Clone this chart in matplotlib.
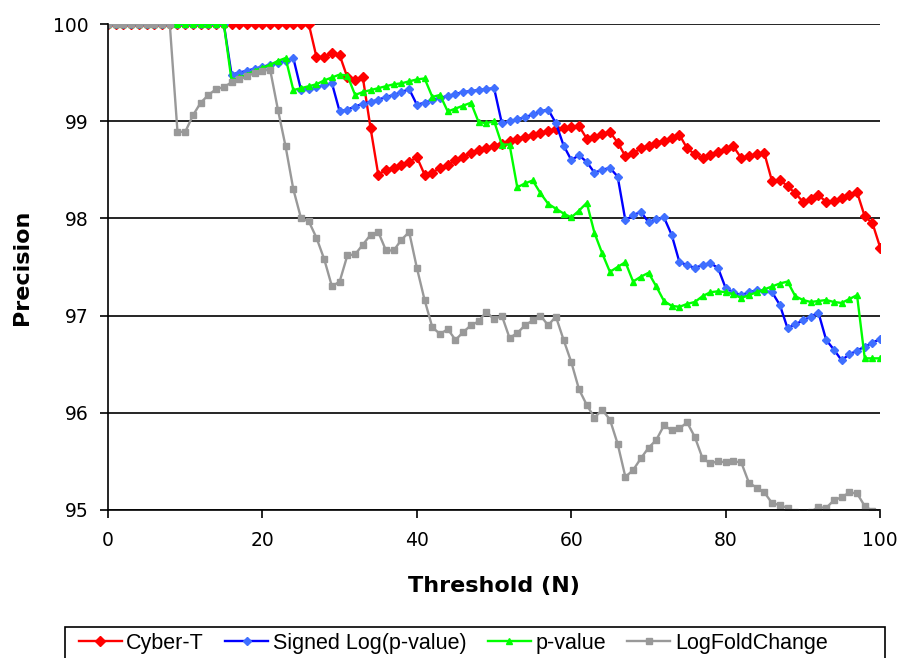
import numpy as np
import matplotlib
matplotlib.use('Agg')
import matplotlib.pyplot as plt
from matplotlib.patches import Rectangle

threshold = list(range(0, 101))

cyber_t = [100]*27 + [
    99.66, 99.66, 99.70, 99.68,                                    # 27-30
    99.45, 99.42, 99.45, 98.93, 98.45,                             # 31-35
    98.50, 98.52, 98.55, 98.58, 98.63, 98.45, 98.47, 98.52, 98.55, 98.60,  # 36-45
    98.63, 98.67, 98.70, 98.72, 98.75, 98.77, 98.80, 98.82, 98.84, 98.86,  # 46-55
    98.88, 98.90, 98.92, 98.93, 98.94, 98.95, 98.82, 98.84, 98.87, 98.89,  # 56-65
    98.78, 98.64, 98.67, 98.72, 98.75, 98.78, 98.80, 98.83, 98.86, 98.72,  # 66-75
    98.66, 98.62, 98.65, 98.68, 98.71, 98.74, 98.62, 98.64, 98.66, 98.67,  # 76-85
    98.38, 98.40, 98.33, 98.26, 98.17, 98.20, 98.24, 98.17, 98.18, 98.21,  # 86-95
    98.24, 98.27, 98.02, 97.95, 97.70]                             # 96-100

signed_log_p = [100]*16 + [
    99.48, 99.50, 99.52, 99.54, 99.56, 99.58, 99.60, 99.62, 99.65,         # 16-24
    99.32, 99.33, 99.35, 99.37, 99.39,                                     # 25-29
    99.10, 99.12, 99.15, 99.18, 99.20, 99.22, 99.25, 99.27, 99.30, 99.33,  # 30-39
    99.17, 99.19, 99.22, 99.24, 99.26, 99.28, 99.30, 99.31, 99.32, 99.33, 99.34,  # 40-50
    98.98, 99.00, 99.02, 99.04, 99.07, 99.10, 99.12,                       # 51-57
    98.98, 98.75, 98.60, 98.65, 98.58, 98.47, 98.50, 98.52, 98.43, 97.98,  # 58-67
    98.03, 98.07, 97.96, 97.99, 98.01, 97.83, 97.55, 97.52, 97.49, 97.52,  # 68-77
    97.54, 97.49, 97.28, 97.24, 97.21, 97.24, 97.26, 97.25, 97.24, 97.11,  # 78-87
    96.87, 96.91, 96.95, 96.99, 97.03, 96.75, 96.65, 96.54, 96.60, 96.64,  # 88-97
    96.68, 96.72, 96.76]                                                   # 98-100

p_value = [100]*16 + [
    99.42, 99.45, 99.48, 99.52, 99.55, 99.58, 99.62, 99.65,                # 16-23
    99.32, 99.34, 99.36, 99.38, 99.42, 99.45, 99.48, 99.47,                # 24-31
    99.27, 99.30, 99.32, 99.34, 99.36, 99.38, 99.39, 99.41, 99.43, 99.44,  # 32-41
    99.25, 99.27, 99.10, 99.13, 99.16, 99.19, 98.99, 98.98, 99.00, 98.76,  # 42-51
    98.76, 98.32, 98.36, 98.39, 98.26, 98.15, 98.10, 98.05, 98.01, 98.08,  # 52-61
    98.16, 97.85, 97.64, 97.45, 97.50, 97.55, 97.35, 97.40, 97.44, 97.30,  # 62-71
    97.15, 97.10, 97.09, 97.12, 97.14, 97.20, 97.24, 97.25, 97.24, 97.22,  # 72-81
    97.18, 97.21, 97.24, 97.27, 97.30, 97.33, 97.35, 97.20, 97.16, 97.14,  # 82-91
    97.15, 97.16, 97.14, 97.13, 97.17, 97.21, 96.56, 96.56, 96.56]         # 92-100

log_fold_change = [100]*9 + [
    98.89, 98.89, 99.06, 99.19, 99.27, 99.33, 99.35, 99.40, 99.43, 99.46,  # 9-18
    99.50, 99.52, 99.53, 99.12, 98.74, 98.30, 98.00, 97.97, 97.80, 97.58,  # 19-28
    97.30, 97.35, 97.62, 97.63, 97.73, 97.83, 97.86, 97.67, 97.67, 97.78,  # 29-38
    97.86, 97.49, 97.16, 96.88, 96.81, 96.86, 96.75, 96.83, 96.90, 96.94,  # 39-48
    97.04, 96.96, 97.00, 96.77, 96.82, 96.90, 96.95, 97.00, 96.90, 96.99,  # 49-58
    96.75, 96.52, 96.24, 96.08, 95.95, 96.03, 95.93, 95.68, 95.34, 95.41,  # 59-68
    95.53, 95.64, 95.72, 95.87, 95.82, 95.84, 95.90, 95.75, 95.53, 95.48,  # 69-78
    95.50, 95.49, 95.50, 95.49, 95.28, 95.23, 95.18, 95.07, 95.05, 95.02,  # 79-88
    94.98, 94.97, 94.98, 95.03, 95.02, 95.10, 95.13, 95.18, 95.17, 95.04,  # 89-98
    94.99, 94.97]                                                          # 99-100

series = [
    ('Cyber-T', cyber_t, '#FF0000', '#FF0000', 'D', 4.6),
    ('Signed Log(p-value)', signed_log_p, '#0000FF', '#3F6FFF', 'D', 4.0),
    ('p-value', p_value, '#00FF00', '#00FF00', '^', 5.0),
    ('LogFoldChange', log_fold_change, '#999999', '#999999', 's', 4.2),
]

fig = plt.figure(figsize=(9, 6.58), dpi=100)
ax = fig.add_axes([0.12, 0.225, 0.858, 0.7385])

for name, vals, lc, mc, mk, ms in series:
    ax.plot(threshold, vals, color=lc, linewidth=1.7, marker=mk, markersize=ms,
            markerfacecolor=mc, markeredgecolor=mc, label=name)

ax.set_xlim(0, 100)
ax.set_ylim(95, 100)
ax.set_xticks(np.arange(0, 101, 20))
ax.set_yticks(np.arange(95, 101, 1))
ax.yaxis.grid(True, color='black', linewidth=1.2)
ax.set_axisbelow(True)
for s in ['top', 'right']:
    ax.spines[s].set_visible(False)
for s in ['left', 'bottom']:
    ax.spines[s].set_linewidth(1.2)
ax.tick_params(direction='out', length=6, width=1.2, labelsize=13.5)
ax.tick_params(axis='x', pad=9)
ax.tick_params(axis='y', pad=8)

ax.set_xlabel('Threshold (N)', fontsize=16, fontweight='bold', labelpad=19)
ax.set_ylabel('Precision', fontsize=16, fontweight='bold', labelpad=15)

leg = fig.legend(loc='center left', bbox_to_anchor=(68/900, 1 - 643/658), ncol=4,
                 prop={'family': 'Liberation Sans', 'size': 15.5}, frameon=False,
                 handlelength=2.0, columnspacing=1.0, handletextpad=0.2,
                 borderpad=0.0)
# legend box runs off the bottom edge like the source image
fig.patches.append(Rectangle((65/900, -0.02), 820/900, 0.02 + (658 - 627)/658,
                             transform=fig.transFigure, fill=False,
                             edgecolor='black', linewidth=1.2))

fig.savefig('out.png', dpi=100)
